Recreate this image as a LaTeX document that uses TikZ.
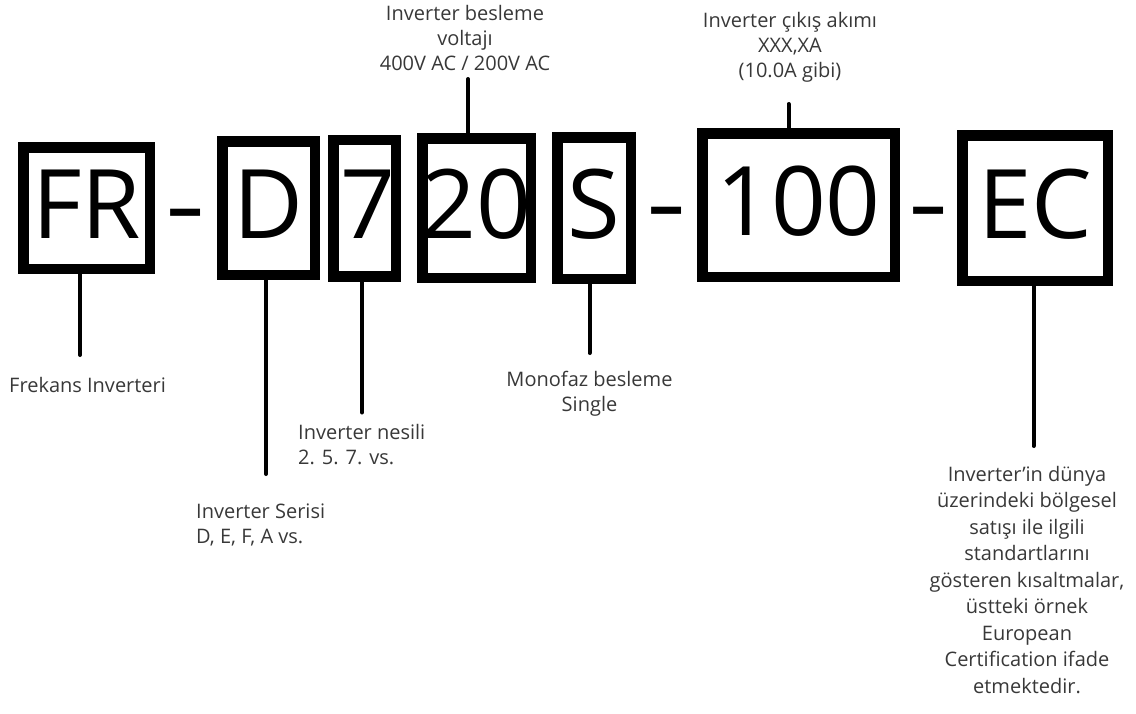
\documentclass[tikz,border=0pt]{standalone}
\usepackage{fontspec}
\setmainfont{Open Sans}
\usepackage{tikz}
\usetikzlibrary{positioning, calc}

\begin{document}
\begin{tikzpicture}[
    x=1pt, y=1pt,
    codebox/.style={draw, line width=10.5pt, inner ysep=0pt, inner xsep=-20pt, text height=60pt, text depth=0pt, font=\fontsize{96}{96}\selectfont},
    dashmark/.style={inner sep=0pt, text height=60pt, text depth=0pt, xscale=1.3, transform shape, font=\fontsize{96}{96}\selectfont},
    lead/.style={line width=4pt, line cap=round},
    lbl/.style={inner sep=0pt, text=black!78, font=\fontsize{20}{25}\selectfont},
    reglbl/.style={lbl, align=center, font=\fontsize{20}{26.5}\selectfont}
]
\useasboundingbox (0,0) rectangle (1136,-713);

\node[codebox, minimum width=126.5pt, minimum height=121.5pt] (fr) at (86.5,-208) {FR};
\node[codebox, minimum width=92.5pt, minimum height=133.5pt, right=62pt of fr] (ser) {D};
\node[codebox, minimum width=62.5pt, minimum height=136.5pt, right=8pt of ser] (gen) {\hspace{6pt}7};
\node[codebox, minimum width=108.5pt, minimum height=139.5pt, right=16pt of gen] (volt) {20};
\node[codebox, minimum width=73.5pt, minimum height=141.5pt, right=16pt of volt] (phase) {S\hspace{10pt}};
\node[codebox, minimum width=192.5pt, minimum height=143.5pt, right=61pt of phase, yshift=3pt] (amp) {100};
\node[codebox, minimum width=145.5pt, minimum height=145.5pt, right=57pt of amp, yshift=-3pt] (reg) {EC};

\node[dashmark] (dash1) at ($(fr.east)!0.5!(ser.west)$) {-};
\node[dashmark] (dash2) at ($(phase.east)!0.5!(amp.west)$) {-};
\node[dashmark] (dash3) at ($(amp.east)!0.5!(reg.west)$) {-};

\coordinate[below=81pt of fr.south, xshift=-6.5pt] (frend);
\coordinate[below=194pt of ser.south, xshift=-2.5pt] (serend);
\coordinate[below=131pt of gen.south, xshift=-2.5pt] (genend);
\coordinate[above=54pt of volt.north, xshift=-8.5pt] (voltend);
\coordinate[below=69pt of phase.south, xshift=-4.5pt] (phaseend);
\coordinate[above=24pt of amp.north, xshift=-10pt] (ampend);
\coordinate[below=160pt of reg.south, xshift=-1.5pt] (regend);

\draw[lead] (fr.south -| frend) -- (frend);
\draw[lead] (ser.south -| serend) -- (serend);
\draw[lead] (gen.south -| genend) -- (genend);
\draw[lead] (volt.north -| voltend) -- (voltend);
\draw[lead] (phase.south -| phaseend) -- (phaseend);
\draw[lead] (amp.north -| ampend) -- (ampend);
\draw[lead] (reg.south -| regend) -- (regend);

\node[lbl, anchor=north west] (frlbl) at ([xshift=-71pt, yshift=-22pt]frend) {Frekans Inverteri};
\node[lbl, align=left, anchor=north west] (serlbl) at ([xshift=-70pt, yshift=-30pt]serend) {Inverter Serisi\\D, E, F, A vs.};
\node[lbl, align=left, anchor=north west] (genlbl) at ([xshift=-64pt, yshift=-12pt]genend) {Inverter nesili\\2. 5. 7. vs.};
\node[lbl, align=center, anchor=north] (voltlbl) at ([xshift=-3pt, yshift=74pt]voltend) {Inverter besleme\\voltajı\\400V AC / 200V AC};
\node[lbl, align=center, anchor=north] (phaselbl) at ([yshift=-18pt]phaseend) {Monofaz besleme\\Single};
\node[lbl, align=center, anchor=north] (amplbl) at ([xshift=1.5pt, yshift=92pt]ampend) {Inverter çıkış akımı\\XXX,XA\\(10.0A gibi)};
\node[reglbl, anchor=north] (reglbl) at ([xshift=-6.5pt, yshift=-20pt]regend) {Inverter'in dünya\\üzerindeki bölgesel\\satışı ile ilgili\\standartlarını\\gösteren kısaltmalar,\\üstteki örnek\\European\\Certification ifade\\etmektedir.};

\end{tikzpicture}
\end{document}
